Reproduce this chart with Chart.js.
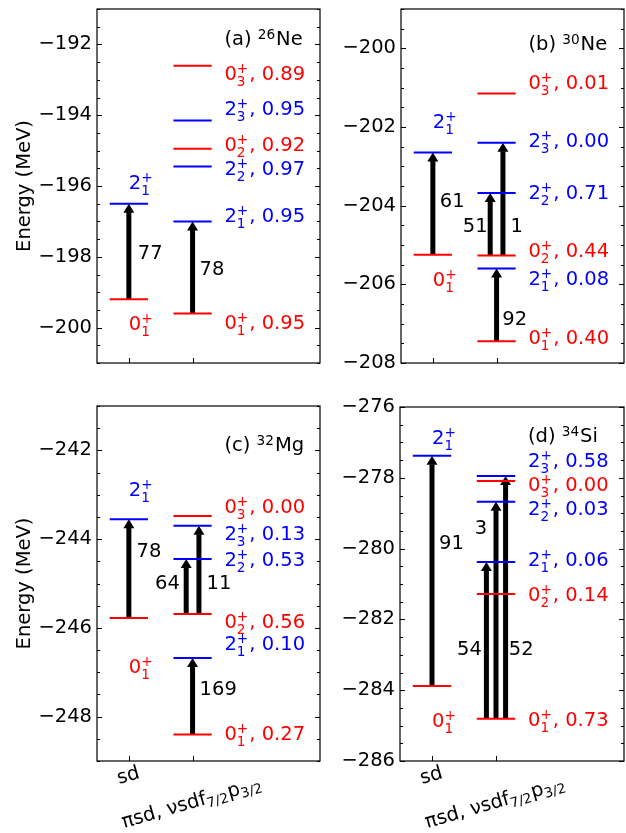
<!DOCTYPE html>
<html>
<head>
<meta charset="utf-8">
<script src="https://cdn.jsdelivr.net/npm/chart.js@4.4.0/dist/chart.umd.min.js"></script>
<style>
body { margin: 0; background: #fff; width: 626px; height: 833px; position: relative; overflow: hidden; }
canvas { position: absolute; }
</style>
</head>
<body>
<canvas id="cA" width="330" height="385" style="left:0;top:0"></canvas>
<canvas id="cB" width="306" height="385" style="left:320px;top:0"></canvas>
<canvas id="cC" width="330" height="448" style="left:0;top:385px"></canvas>
<canvas id="cD" width="306" height="448" style="left:320px;top:385px"></canvas>
<script>
// ---- datos ----
// columnas del eje x
const xCategories = ['sd', 'πsd, νsdf_{7/2}p_{3/2}'];

// (a) 26Ne
const ne26Ticks = [-200, -198, -196, -194, -192];
const ne26SdStates = ['0_1', '2_1'];
const ne26SdEnergy = [-199.2, -196.5];
const ne26States = ['0_1', '2_1', '2_2', '0_2', '2_3', '0_3'];
const ne26Energy = [-199.6, -197.0, -195.45, -194.95, -194.15, -192.6];
const ne26Overlap = [0.95, 0.95, 0.97, 0.92, 0.95, 0.89];
const ne26TransCol = ['sd', 'x'];
const ne26TransFrom = ['0_1', '0_1'];
const ne26TransTo = ['2_1', '2_1'];
const ne26BE2 = [77, 78];

// (b) 30Ne
const ne30Ticks = [-208, -206, -204, -202, -200];
const ne30SdStates = ['0_1', '2_1'];
const ne30SdEnergy = [-205.25, -202.65];
const ne30States = ['0_1', '2_1', '0_2', '2_2', '2_3', '0_3'];
const ne30Energy = [-207.45, -205.6, -205.27, -203.68, -202.4, -201.15];
const ne30Overlap = [0.40, 0.08, 0.44, 0.71, 0.00, 0.01];
const ne30TransCol = ['sd', 'x', 'x', 'x'];
const ne30TransFrom = ['0_1', '0_1', '0_2', '0_2'];
const ne30TransTo = ['2_1', '2_1', '2_2', '2_3'];
const ne30BE2 = [61, 92, 51, 1];

// (c) 32Mg
const mg32Ticks = [-248, -246, -244, -242];
const mg32SdStates = ['0_1', '2_1'];
const mg32SdEnergy = [-245.78, -243.55];
const mg32States = ['0_1', '2_1', '0_2', '2_2', '2_3', '0_3'];
const mg32Energy = [-248.4, -246.68, -245.69, -244.45, -243.7, -243.48];
const mg32Overlap = [0.27, 0.10, 0.56, 0.53, 0.13, 0.00];
const mg32TransCol = ['sd', 'x', 'x', 'x'];
const mg32TransFrom = ['0_1', '0_1', '0_2', '0_2'];
const mg32TransTo = ['2_1', '2_1', '2_2', '2_3'];
const mg32BE2 = [78, 169, 64, 11];

// (d) 34Si
const si34Ticks = [-286, -284, -282, -280, -278, -276];
const si34SdStates = ['0_1', '2_1'];
const si34SdEnergy = [-283.88, -277.38];
const si34States = ['0_1', '0_2', '2_1', '2_2', '0_3', '2_3'];
const si34Energy = [-284.81, -281.28, -280.38, -278.68, -278.09, -277.95];
const si34Overlap = [0.73, 0.14, 0.06, 0.03, 0.00, 0.58];
const si34TransCol = ['sd', 'x', 'x', 'x'];
const si34TransFrom = ['0_1', '0_1', '0_1', '0_1'];
const si34TransTo = ['2_1', '2_1', '2_2', '2_3'];
const si34BE2 = [91, 54, 3, 52];

// ---- posiciones de textos y flechas (solo maquetacion) ----
const xTickPos = [1, 2];
const FAMILY = 'DejaVu Sans';
const FS = 19.5;

const panels = [
  { id: 'cA', title: '(a) ^{26}Ne', yMin: -201, yMax: -191, ticks: ne26Ticks,
    sdStates: ne26SdStates, sdEnergy: ne26SdEnergy, states: ne26States, energy: ne26Energy, overlap: ne26Overlap,
    tCol: ne26TransCol, tFrom: ne26TransFrom, tTo: ne26TransTo, be2: ne26BE2,
    sdLabelY: [-199.87, -195.89], labelY: [-199.84, -196.82, -195.49, -194.81, -193.80, -192.81],
    arrowX: [1, 2], be2Pos: [[1.14, -197.86, 'left'], [2.11, -198.32, 'left']], titleY: -191.82,
    pad: { top: 9, right: 10, left: 0, bottom: 0 }, yW: 97, xH: 22, yTitle: true, xLabels: false },
  { id: 'cB', title: '(b) ^{30}Ne', yMin: -208, yMax: -199, ticks: ne30Ticks,
    sdStates: ne30SdStates, sdEnergy: ne30SdEnergy, states: ne30States, energy: ne30Energy, overlap: ne30Overlap,
    tCol: ne30TransCol, tFrom: ne30TransFrom, tTo: ne30TransTo, be2: ne30BE2,
    sdLabelY: [-205.86, -201.85], labelY: [-207.34, -205.84, -205.13, -203.65, -202.33, -200.86],
    arrowX: [1, 2, 1.9, 2.1], be2Pos: [[1.11, -203.86, 'left'], [2.09, -206.86, 'left'], [1.86, -204.49, 'right'], [2.22, -204.49, 'left']],
    titleY: -199.86,
    pad: { top: 9, right: 2, left: 0, bottom: 0 }, yW: 81, xH: 22, yTitle: false, xLabels: false },
  { id: 'cC', title: '(c) ^{32}Mg', yMin: -249, yMax: -241, ticks: mg32Ticks,
    sdStates: mg32SdStates, sdEnergy: mg32SdEnergy, states: mg32States, energy: mg32Energy, overlap: mg32Overlap,
    tCol: mg32TransCol, tFrom: mg32TransFrom, tTo: mg32TransTo, be2: mg32BE2,
    sdLabelY: [-246.86, -242.87], labelY: [-248.37, -246.34, -245.85, -244.45, -243.86, -243.25],
    arrowX: [1, 2, 1.9, 2.1], be2Pos: [[1.12, -244.25, 'left'], [2.11, -247.35, 'left'], [1.80, -244.97, 'right'], [2.22, -244.97, 'left']],
    titleY: -241.86,
    pad: { top: 21, right: 10, left: 0, bottom: 0 }, yW: 97, xH: 72, yTitle: true, xLabels: true },
  { id: 'cD', title: '(d) ^{34}Si', yMin: -286, yMax: -276, ticks: si34Ticks,
    sdStates: si34SdStates, sdEnergy: si34SdEnergy, states: si34States, energy: si34Energy, overlap: si34Overlap,
    tCol: si34TransCol, tFrom: si34TransFrom, tTo: si34TransTo, be2: si34BE2,
    sdLabelY: [-284.84, -276.85], labelY: [-284.81, -281.28, -280.29, -278.85, -278.18, -277.50],
    arrowX: [1, 1.85, 2.0, 2.15], be2Pos: [[1.11, -279.81, 'left'], [1.78, -282.81, 'right'], [1.86, -279.39, 'right'], [2.2, -282.81, 'left']],
    titleY: -276.79,
    pad: { top: 22, right: 2, left: 0, bottom: 0 }, yW: 80, xH: 72, yTitle: false, xLabels: true }
];

// ---- texto con sub/superindices ----
function font(size) { return size + 'px "' + FAMILY + '"'; }

function parseRich(s) {
  const segs = [];
  let buf = '';
  let i = 0;
  while (i < s.length) {
    const c = s[i];
    if ((c === '_' || c === '^') && s[i + 1] === '{') {
      const j = s.indexOf('}', i);
      const key = c === '_' ? 'sub' : 'sup';
      if (buf) { segs.push({ t: buf }); buf = ''; }
      const last = segs[segs.length - 1];
      if (last && last.script && !last[key]) last[key] = s.slice(i + 2, j);
      else segs.push({ script: true, [key]: s.slice(i + 2, j) });
      i = j + 1;
    } else {
      buf += c;
      i++;
    }
  }
  if (buf) segs.push({ t: buf });
  return segs;
}

function drawRich(ctx, str, x, yMid, align, color, size) {
  size = size || FS;
  const small = size * 0.7;
  const segs = parseRich(str);
  let w = 0;
  const ws = segs.map(s => {
    let sw;
    if (s.script) {
      ctx.font = font(small);
      sw = Math.max(s.sub ? ctx.measureText(s.sub).width : 0, s.sup ? ctx.measureText(s.sup).width : 0) + size * 0.05;
    } else {
      ctx.font = font(size);
      sw = ctx.measureText(s.t).width;
    }
    w += sw;
    return sw;
  });
  let cx = align === 'right' ? x - w : (align === 'center' ? x - w / 2 : x);
  const base = yMid + 0.365 * size;
  ctx.textAlign = 'left';
  ctx.textBaseline = 'alphabetic';
  ctx.fillStyle = color;
  segs.forEach((s, k) => {
    if (s.script) {
      ctx.font = font(small);
      const both = s.sub && s.sup;
      if (s.sup) ctx.fillText(s.sup, cx, base - (both ? 0.38 : 0.3) * size);
      if (s.sub) ctx.fillText(s.sub, cx, base + (both ? 0.31 : 0.2) * size);
    } else {
      ctx.font = font(size);
      ctx.fillText(s.t, cx, base);
    }
    cx += ws[k];
  });
}

function stateLabel(st) {
  const [j, n] = st.split('_');
  return j + '_{' + n + '}^{+}';
}
function stateColor(st) { return st[0] === '0' ? '#ff0000' : '#0000ff'; }
function fmtTick(v) { return v < 0 ? '\u2212' + Math.abs(v) : String(v); }

// ---- graficos ----
function makeChart(p) {
  const datasets = [];
  p.sdStates.forEach((st, i) => {
    datasets.push({
      data: [{ x: xTickPos[0] - 0.3, y: p.sdEnergy[i] }, { x: xTickPos[0] + 0.3, y: p.sdEnergy[i] }],
      borderColor: stateColor(st), borderWidth: 2, pointRadius: 0, fill: false
    });
  });
  p.states.forEach((st, i) => {
    datasets.push({
      data: [{ x: xTickPos[1] - 0.3, y: p.energy[i] }, { x: xTickPos[1] + 0.3, y: p.energy[i] }],
      borderColor: stateColor(st), borderWidth: 2, pointRadius: 0, fill: false
    });
  });

  function levelE(col, st) {
    return col === 'sd' ? p.sdEnergy[p.sdStates.indexOf(st)] : p.energy[p.states.indexOf(st)];
  }

  // flechas (debajo de los niveles)
  const arrowPlugin = {
    id: 'arrows',
    beforeDatasetsDraw(chart) {
      const ctx = chart.ctx, xs = chart.scales.x, ys = chart.scales.y;
      ctx.save();
      ctx.fillStyle = '#000';
      p.be2.forEach((v, k) => {
        const px = xs.getPixelForValue(p.arrowX[k]);
        const y0 = ys.getPixelForValue(levelE(p.tCol[k], p.tFrom[k]));
        const y1 = ys.getPixelForValue(levelE(p.tCol[k], p.tTo[k]));
        const hl = 9, hw = 5.5, sw = 2.5;
        ctx.fillRect(px - sw, y1 + hl - 0.5, sw * 2, y0 - y1 - hl + 0.5);
        ctx.beginPath();
        ctx.moveTo(px, y1);
        ctx.lineTo(px - hw, y1 + hl);
        ctx.lineTo(px + hw, y1 + hl);
        ctx.closePath();
        ctx.fill();
      });
      ctx.restore();
    }
  };

  // marco y marcas hacia dentro
  const framePlugin = {
    id: 'frame',
    afterDraw(chart) {
      const ctx = chart.ctx, a = chart.chartArea, ys = chart.scales.y, xs = chart.scales.x;
      ctx.save();
      ctx.strokeStyle = '#000';
      ctx.lineWidth = 1.2;
      ctx.strokeRect(a.left, a.top, a.right - a.left, a.bottom - a.top);
      ctx.lineWidth = 1;
      ctx.beginPath();
      for (let v = Math.ceil(p.yMin * 2) / 2; v <= p.yMax + 1e-9; v += 0.5) {
        const py = Math.round(ys.getPixelForValue(v)) + 0.5;
        const len = p.ticks.includes(v) ? 5 : 3;
        ctx.moveTo(a.left, py); ctx.lineTo(a.left + len, py);
        ctx.moveTo(a.right, py); ctx.lineTo(a.right - len, py);
      }
      xTickPos.forEach(v => {
        const px = Math.round(xs.getPixelForValue(v)) + 0.5;
        ctx.moveTo(px, a.bottom); ctx.lineTo(px, a.bottom - 5);
      });
      ctx.stroke();
      ctx.restore();
    }
  };

  // textos
  const textPlugin = {
    id: 'texts',
    afterDatasetsDraw(chart) {
      const ctx = chart.ctx, xs = chart.scales.x, ys = chart.scales.y, a = chart.chartArea;
      ctx.save();
      p.sdStates.forEach((st, i) => {
        drawRich(ctx, stateLabel(st), xs.getPixelForValue(1.0), ys.getPixelForValue(p.sdLabelY[i]), 'left', stateColor(st));
      });
      p.states.forEach((st, i) => {
        drawRich(ctx, stateLabel(st) + ', ' + p.overlap[i].toFixed(2), xs.getPixelForValue(2.5),
          ys.getPixelForValue(p.labelY[i]), 'left', stateColor(st));
      });
      p.be2.forEach((v, k) => {
        const [bx, by, al] = p.be2Pos[k];
        drawRich(ctx, String(v), xs.getPixelForValue(bx), ys.getPixelForValue(by), al, '#000');
      });
      drawRich(ctx, p.title, xs.getPixelForValue(2.5), ys.getPixelForValue(p.titleY), 'left', '#000');
      if (p.xLabels) {
        const offs = [15, 42];
        xCategories.forEach((c, k) => {
          ctx.save();
          ctx.translate(xs.getPixelForValue(xTickPos[k]) - 0.5, a.bottom + offs[k]);
          ctx.rotate(-16 * Math.PI / 180);
          drawRich(ctx, c, 0, -2, 'center', '#000');
          ctx.restore();
        });
      }
      ctx.restore();
    }
  };

  return new Chart(document.getElementById(p.id), {
    type: 'line',
    data: { datasets },
    options: {
      responsive: false,
      animation: false,
      devicePixelRatio: 1,
      layout: { padding: p.pad },
      plugins: { legend: { display: false }, tooltip: { enabled: false } },
      scales: {
        x: {
          type: 'linear', min: 0.5, max: 4,
          ticks: { display: false },
          grid: { display: false, drawTicks: false },
          border: { display: false },
          afterFit(s) { s.height = p.xH; s.paddingLeft = 0; s.paddingRight = 0; }
        },
        y: {
          type: 'linear', min: p.yMin, max: p.yMax,
          afterBuildTicks(s) { s.ticks = p.ticks.map(v => ({ value: v })); },
          ticks: { autoSkip: false, padding: 5, color: '#000', font: { family: FAMILY, size: FS }, callback: v => fmtTick(v) },
          grid: { display: false, drawTicks: false },
          border: { display: false },
          title: { display: p.yTitle, text: 'Energy (MeV)', color: '#000', font: { family: FAMILY, size: FS }, padding: { top: 13, bottom: 0 } },
          afterFit(s) { s.width = p.yW; s.paddingTop = 0; s.paddingBottom = 0; }
        }
      }
    },
    plugins: [arrowPlugin, textPlugin, framePlugin]
  });
}

panels.forEach(makeChart);
</script>
</body>
</html>
